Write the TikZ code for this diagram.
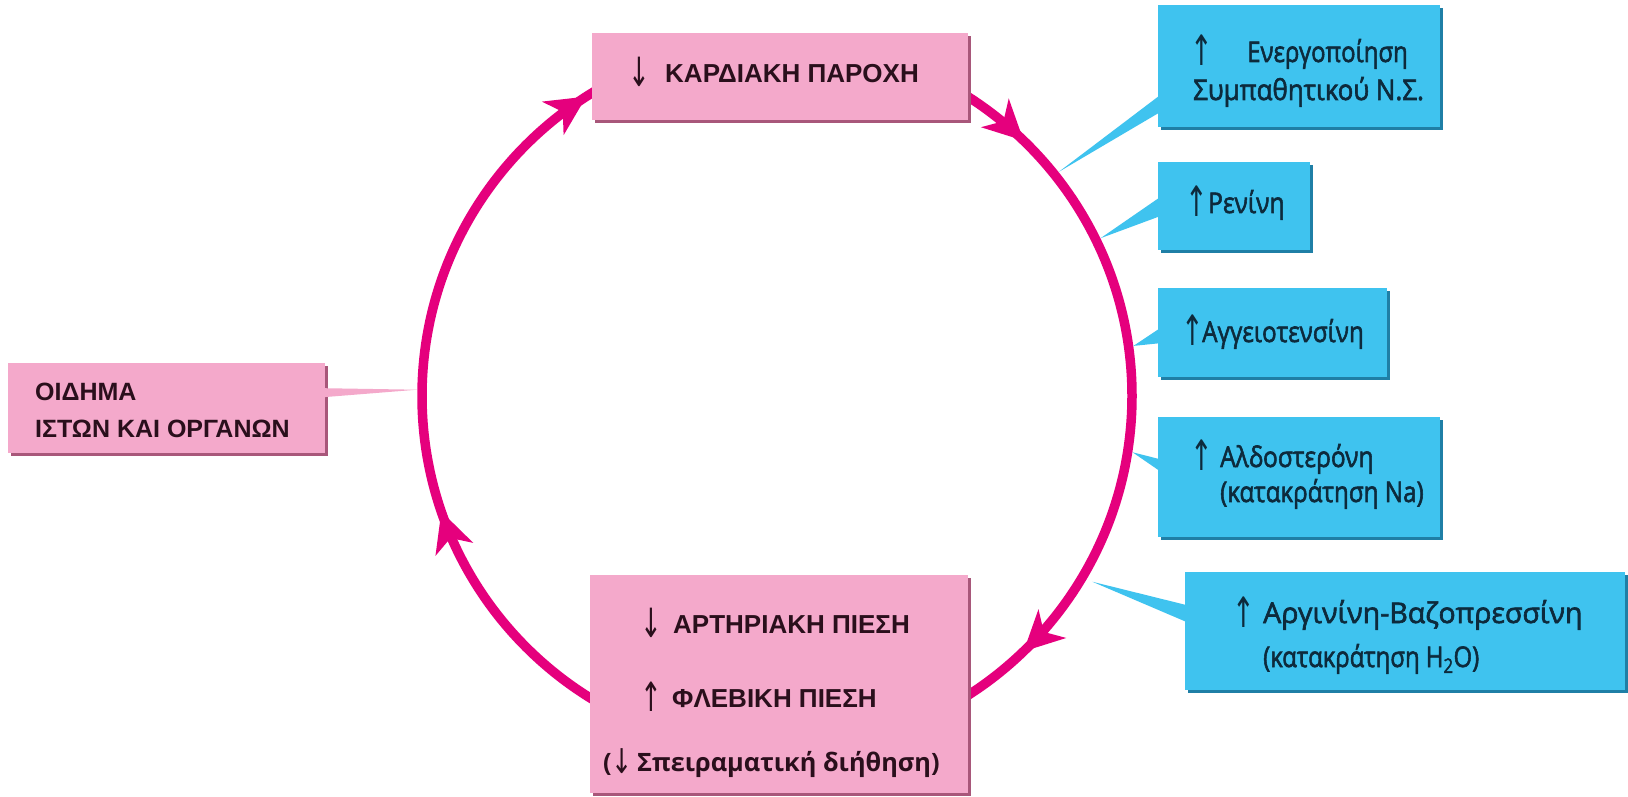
\documentclass[tikz,border=0pt]{standalone}
\usepackage{fontspec}
\usepackage{graphicx}
\setmainfont{Liberation Sans}
\newfontfamily\bluefont[FakeBold=2.2]{Open Sans}
\newfontfamily\bluefontb{Open Sans}
\newfontfamily\arrfont{DejaVu Sans}
\newcommand\myup{{\arrfont\mdseries\raisebox{-4pt}{\scalebox{1}[1.55]{↑}}}}
\newcommand\mydown{{\arrfont\mdseries\raisebox{-4pt}{\scalebox{1}[1.55]{↓}}}}
\newcommand\xs[2]{\scalebox{#1}[1]{#2}}
\usetikzlibrary{shadows}
\definecolor{mag}{HTML}{E5007D}
\definecolor{pinkfill}{HTML}{F4A9CB}
\definecolor{pinkshade}{HTML}{A8577A}
\definecolor{bluefill}{HTML}{3FC3EF}
\definecolor{blueshade}{HTML}{1F7FA6}
\definecolor{pinktext}{HTML}{2A0F1C}
\definecolor{bluetext}{HTML}{0D2A3C}
\begin{document}
\begin{tikzpicture}[x=1pt,y=1pt,
  circ/.style={draw=mag, line width=9.5pt},
  headA/.style={fill=mag},
  pbox/.style={fill=pinkfill, anchor=north west, inner sep=0pt,
    general shadow={fill=pinkshade, shadow xshift=3pt, shadow yshift=-3pt}},
  bbox/.style={fill=bluefill, anchor=north west, inner sep=0pt,
    general shadow={fill=blueshade, shadow xshift=3pt, shadow yshift=-3pt}},
  pwedge/.style={fill=pinkfill},
  bwedge/.style={fill=bluefill},
  ptxt/.style={anchor=base west, inner sep=0pt, text=pinktext, font=\fontsize{26}{26}\selectfont\bfseries},
  parr/.style={anchor=base west, inner sep=0pt, text=pinktext, font=\fontsize{26}{26}\selectfont},
  btxt/.style={anchor=base west, inner sep=0pt, text=bluetext, font=\bluefont\fontsize{28.5}{28.5}\selectfont},
  barr/.style={anchor=base west, inner sep=0pt, text=bluetext, font=\fontsize{27}{27}\selectfont}
]
\useasboundingbox (0,0) rectangle (1628,796);
\fill[white] (0,0) rectangle (1628,796);

% circle centre and cycle
\coordinate (C) at (777,400);
\draw[circ] (C) circle[radius=355];

% arrowhead tips on the circle (clockwise flow)
\coordinate (h1) at ([shift={(199:355)}]C);
\coordinate (h2) at ([shift={(122.5:355)}]C);
\coordinate (h3) at ([shift={(46:355)}]C);
\coordinate (h4) at ([shift={(-46:355)}]C);
\foreach \h/\r in {h1/109, h2/33, h3/-44, h4/-136}{
  \fill[headA, shift={(\h)}, rotate=\r] (0,0) -- (-40,20) -- (-28,0) -- (-40,-20) -- cycle;
}

% callout tips on the circle
\coordinate (t1) at ([shift={(38.5:360)}]C);
\coordinate (t2) at ([shift={(26:360)}]C);
\coordinate (t3) at ([shift={(8:360)}]C);
\coordinate (t4) at ([shift={(-9:360)}]C);
\coordinate (t5) at ([shift={(-30.5:366)}]C);
\coordinate (t0) at ([shift={(179:360)}]C);

% boxes
\node[pbox, minimum width=376pt, minimum height=87pt] (top) at (592,763) {};
\node[pbox, minimum width=378pt, minimum height=218pt] (bot) at (590,221) {};
\node[pbox, minimum width=317pt, minimum height=90pt] (oid) at (8,433) {};
\node[bbox, minimum width=282pt, minimum height=122pt] (b1) at (1158,791) {};
\node[bbox, minimum width=152pt, minimum height=88pt] (b2) at (1158,634) {};
\node[bbox, minimum width=229pt, minimum height=89pt] (b3) at (1158,508) {};
\node[bbox, minimum width=282pt, minimum height=120pt] (b4) at (1158,379) {};
\node[bbox, minimum width=440pt, minimum height=118pt] (b5) at (1185,224) {};

% callout wedges
\fill[bwedge] (t1) -- ([xshift=2pt,yshift=-29pt]b1.west) -- ([xshift=2pt,yshift=-46pt]b1.west) -- cycle;
\fill[bwedge] (t2) -- ([xshift=2pt,yshift=9pt]b2.west) -- ([xshift=2pt,yshift=-10pt]b2.west) -- cycle;
\fill[bwedge] (t3) -- ([xshift=2pt,yshift=4.5pt]b3.west) -- ([xshift=2pt,yshift=-10.5pt]b3.west) -- cycle;
\fill[bwedge] (t4) -- ([xshift=2pt,yshift=18pt]b4.west) -- ([xshift=2pt,yshift=6pt]b4.west) -- cycle;
\fill[bwedge] (t5) -- ([xshift=2pt,yshift=26pt]b5.west) -- ([xshift=2pt,yshift=9pt]b5.west) -- cycle;
\fill[pwedge] (t0) -- ([xshift=-2pt,yshift=20pt]oid.east) -- ([xshift=-2pt,yshift=11pt]oid.east) -- cycle;

% texts: top box
\node[parr] (topA) at (628,713) {\mydown};
\node[ptxt] (topT) at (665,713) {ΚΑΡΔΙΑΚΗ ΠΑΡΟΧΗ};

% texts: bottom box
\node[parr] (botA1) at (640,163) {\mydown};
\node[ptxt] (botT1) at (673,163) {ΑΡΤΗΡΙΑΚΗ ΠΙΕΣΗ};
\node[parr] (botA2) at (640,89) {\myup};
\node[ptxt] (botT2) at (672,89) {ΦΛΕΒΙΚΗ ΠΙΕΣΗ};
\node[anchor=base west, inner sep=0pt, text=pinktext, font=\bluefontb\bfseries\fontsize{25.3}{25.3}\selectfont] (botT3) at (603,25) {({\arrfont\mdseries\raisebox{-2pt}{\scalebox{1}[1.35]{↓}}}\,Σπειραματική διήθηση)};

% texts: left box
\node[ptxt, font=\fontsize{25}{25}\selectfont\bfseries] (oidT1) at (35,395) {ΟΙΔΗΜΑ};
\node[ptxt, font=\fontsize{25}{25}\selectfont\bfseries] (oidT2) at (35,358) {ΙΣΤΩΝ ΚΑΙ ΟΡΓΑΝΩΝ};

% texts: blue boxes
\node[barr] (b1A) at (1190,734) {\myup};
\node[btxt, anchor=base east] (b1T1) at (1408,734) {\xs{0.84}{Ενεργοποίηση}};
\node[btxt] (b1T2) at (1193,696) {\xs{0.91}{Συμπαθητικού Ν.Σ.}};

\node[barr] (b2A) at (1185,583) {\myup};
\node[btxt] (b2T) at (1208,583) {\xs{0.86}{Ρενίνη}};

\node[barr] (b3A) at (1181,454) {\myup};
\node[btxt] (b3T) at (1202,454) {\xs{0.85}{Αγγειοτενσίνη}};

\node[barr] (b4A) at (1190,329) {\myup};
\node[btxt] (b4T1) at (1220,329) {\xs{0.86}{Αλδοστερόνη}};
\node[btxt] (b4T2) at (1220,294) {\xs{0.85}{(κατακράτηση Na)}};

\node[barr] (b5A) at (1232,173) {\myup};
\node[btxt] (b5T1) at (1263,173) {Αργινίνη-Βαζοπρεσσίνη};
\node[btxt] (b5T2) at (1263,129) {\xs{0.84}{(κατακράτηση H\textsubscript{2}O)}};
\end{tikzpicture}
\end{document}
